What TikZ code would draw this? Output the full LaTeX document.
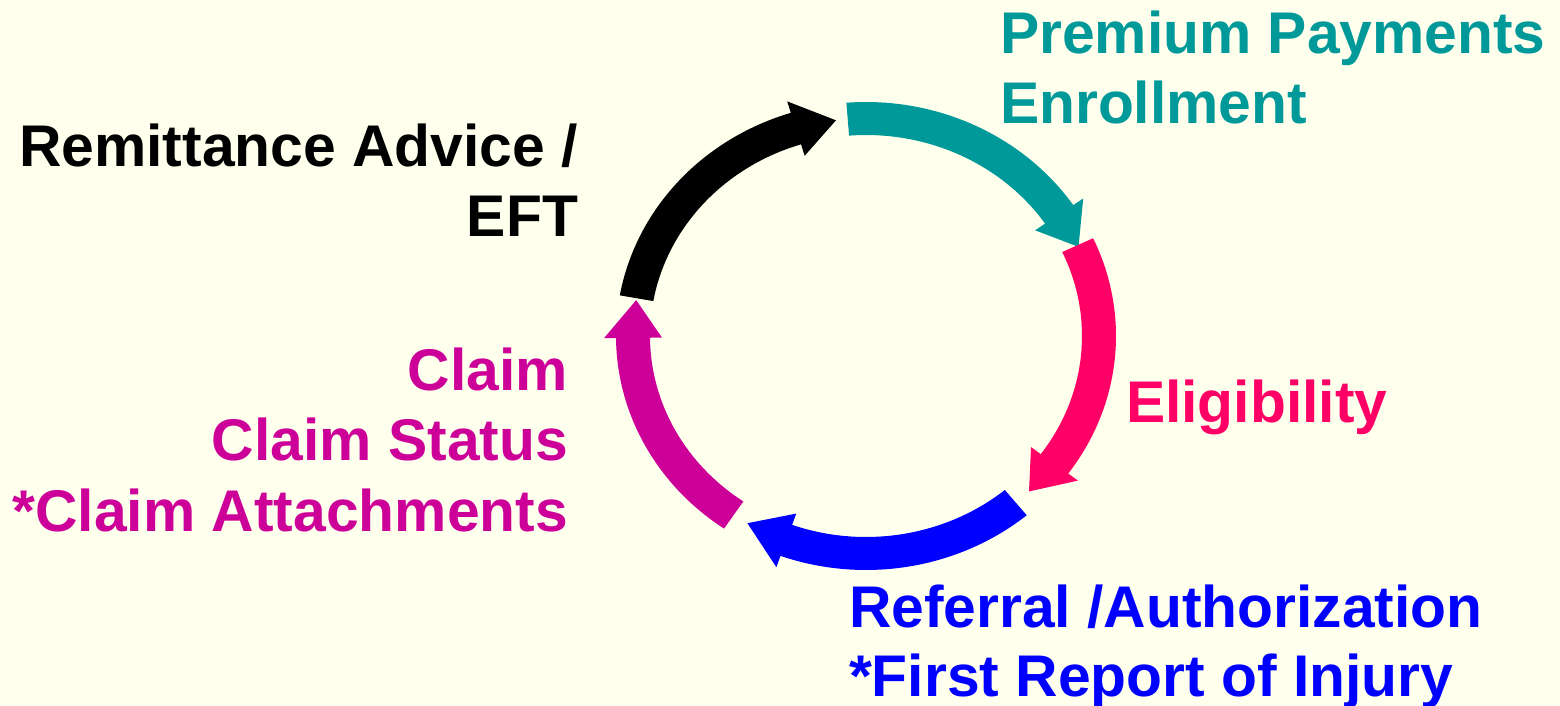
\documentclass[tikz,border=0pt]{standalone}
\usepackage{fontspec}
\setmainfont{Liberation Sans}
\definecolor{paper}{RGB}{255,255,238}
\definecolor{cTeal}{RGB}{0,153,153}
\definecolor{cPink}{RGB}{255,0,102}
\definecolor{cBlue}{RGB}{0,0,255}
\definecolor{cMagenta}{RGB}{204,0,153}

% ring geometry (pixel units, y pointing down)
\def\ringcx{866}
\def\ringcy{336}
\def\rxo{250}\def\ryo{234}
\def\rxi{216}\def\ryi{201}
\def\rxm{233}\def\rym{217.5}
\def\barb{12}

% #1 colour, #2 tail angle, #3 angle where the head starts, #4 tip angle
\newcommand{\cycarrow}[4]{%
  \fill[#1]
    plot[domain=#2:#3, samples=60] ({\ringcx+\rxo*cos(\x)},{\ringcy-\ryo*sin(\x)})
    -- ({\ringcx+(\rxo+\barb)*cos(#3)},{\ringcy-(\ryo+\barb)*sin(#3)})
    -- ({\ringcx+\rxm*cos(#4)},{\ringcy-\rym*sin(#4)})
    -- ({\ringcx+(\rxi-\barb)*cos(#3)},{\ringcy-(\ryi-\barb)*sin(#3)})
    -- plot[domain=#3:#2, samples=60] ({\ringcx+\rxi*cos(\x)},{\ringcy-\ryi*sin(\x)})
    -- cycle;}

\begin{document}
\begin{tikzpicture}[x=0.5pt,y=-0.5pt,
  lbl/.style={font=\bfseries\fontsize{29.4}{35}\selectfont, inner sep=0pt, outer sep=0pt}]
  \fill[paper] (0,0) rectangle (1560,706);
  \useasboundingbox (0,0) rectangle (1560,706);

  % the five arrows of the cycle
  \cycarrow{black}{170}{107.5}{97.4}
  \cycarrow{cTeal}{94.5}{34}{24.2}
  \cycarrow{cPink}{24.7}{-36}{-45.6}
  \cycarrow{cBlue}{-50}{-110}{-120.6}
  \cycarrow{cMagenta}{-124.6}{-179.5}{-189.5}

  % labels
  \node[lbl, anchor=base east, text=black] (rem1) at (578,166.7) {Remittance Advice /};
  \node[lbl, anchor=base east, text=black] (rem2) at (578,236.7) {EFT};

  \node[lbl, anchor=base west, text=cTeal] (prem1) at (1000,54) {Premium Payments};
  \node[lbl, anchor=base west, text=cTeal] (prem2) at (1000,124) {Enrollment};

  \node[lbl, anchor=base west, text=cPink] (elig) at (1126,422) {Eligibility};

  \node[lbl, anchor=base west, text=cBlue] (ref1) at (849,627) {Referral /Authorization};
  \node[lbl, anchor=base west, text=cBlue] (ref2) at (849,696) {*First Report of Injury};

  \node[lbl, anchor=base east, text=cMagenta] (clm1) at (568,390.7) {Claim};
  \node[lbl, anchor=base east, text=cMagenta] (clm2) at (568,460.7) {Claim Status};
  \node[lbl, anchor=base east, text=cMagenta] (clm3) at (568,531) {*Claim Attachments};
\end{tikzpicture}
\end{document}
